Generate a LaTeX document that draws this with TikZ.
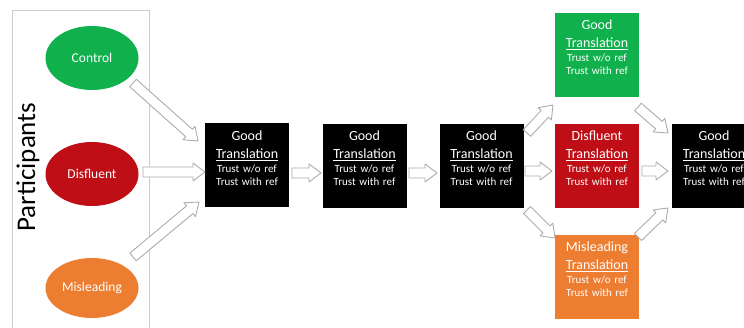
\documentclass[tikz,border=0pt]{standalone}
\usepackage{fontspec}
\setmainfont{Carlito}
\usepackage{tikz}
\usetikzlibrary{calc, shapes.geometric}

\definecolor{cgreen}{RGB}{16,176,76}
\definecolor{cred}{RGB}{192,14,22}
\definecolor{corange}{RGB}{237,125,49}

\newcommand{\trans}[1]{{\fontsize{14}{17}\selectfont #1}\\[5pt]{\fontsize{14}{17}\selectfont\underline{Translation}}\\[1pt]Trust w/o ref\\Trust with ref}

\tikzstyle{flow} = [draw=gray!65, fill=white, line width=0.9pt, line join=round,
  to path={let \p1=(\tikztostart), \p2=(\tikztotarget),
    \n1={atan2(\y2-\y1,\x2-\x1)}, \n2={veclen(\x2-\x1,\y2-\y1)-12pt} in
    ($(\p1)+(\n1+90:5pt)$) -- ++(\n1:\n2) -- ++(\n1+90:4pt) -- (\p2)
    -- ($(\p1)+(\n1:\n2)+(\n1-90:9pt)$) -- ++(\n1+90:4pt)
    -- ($(\p1)+(\n1-90:5pt)$) -- cycle}]

\begin{document}
\begin{tikzpicture}[x=1pt, y=-1pt,
  every node/.style={font=\fontsize{11}{13}\selectfont, text=white},
  grp/.style={ellipse, minimum width=93pt, minimum height=64pt, inner sep=0pt, font=\fontsize{13.5}{15}\selectfont},
  box/.style={rectangle, minimum width=84pt, minimum height=84pt, text width=80pt, inner xsep=2pt, inner ysep=6pt, align=center, text depth=60pt}]
        \useasboundingbox (0,0) rectangle (744,328);

        % Participants
        \node[draw=gray!40, line width=0.8pt, minimum width=137pt, minimum height=330pt, inner sep=0pt] (P) at (80.5,175) {};
        \node[rotate=90, text=black, font=\fontsize{27}{30}\selectfont] (L) at (28,167) {Participants};
        \node[grp, fill=cgreen] (C) at (92,58) {Control};
        \node[grp, fill=cred] (D) at (92,174) {Disfluent};
        \node[grp, fill=corange, minimum height=60pt] (M) at (92,288) {Misleading};

        % Translations
        \node[box, fill=black] (B1) at (247,165.5) {\trans{Good}};
        \node[box, fill=black] (B2) at (364.5,166) {\trans{Good}};
        \node[box, fill=black] (B3) at (481.5,166) {\trans{Good}};
        \node[box, fill=cgreen] (G) at (597,55) {\trans{Good}};
        \node[box, fill=cred] (R) at (597,166) {\trans{Disfluent}};
        \node[box, fill=corange] (O) at (597,277) {\trans{Misleading}};
        \node[box, fill=black] (B5) at (714,166) {\trans{Good}};

        % Arrow ends
        \coordinate (c1) at (133,83);   \coordinate (c2) at (198,141);
        \coordinate (d1) at (143,172);  \coordinate (d2) at (205,172);
        \coordinate (m1) at (133,257);  \coordinate (m2) at (199,202);
        \coordinate (e1) at (292,173);  \coordinate (e2) at (321,173);
        \coordinate (f1) at (409,173);  \coordinate (f2) at (437,173);
        \coordinate (g1) at (527,133);  \coordinate (g2) at (553,105);
        \coordinate (r1) at (525,171);  \coordinate (r2) at (552,171);
        \coordinate (o1) at (527,210);  \coordinate (o2) at (555,238);
        \coordinate (h1) at (638,107);  \coordinate (h2) at (668,133);
        \coordinate (s1) at (642,171);  \coordinate (s2) at (668,171);
        \coordinate (k1) at (638,237);  \coordinate (k2) at (668,208);

        % Arrows - hollow
        \draw[flow] (c1) to (c2);
        \draw[flow] (d1) to (d2);
        \draw[flow] (m1) to (m2);
        \draw[flow] (e1) to (e2);
        \draw[flow] (f1) to (f2);
        \draw[flow] (g1) to (g2);
        \draw[flow] (r1) to (r2);
        \draw[flow] (o1) to (o2);
        \draw[flow] (h1) to (h2);
        \draw[flow] (s1) to (s2);
        \draw[flow] (k1) to (k2);
      \end{tikzpicture}
\end{document}
